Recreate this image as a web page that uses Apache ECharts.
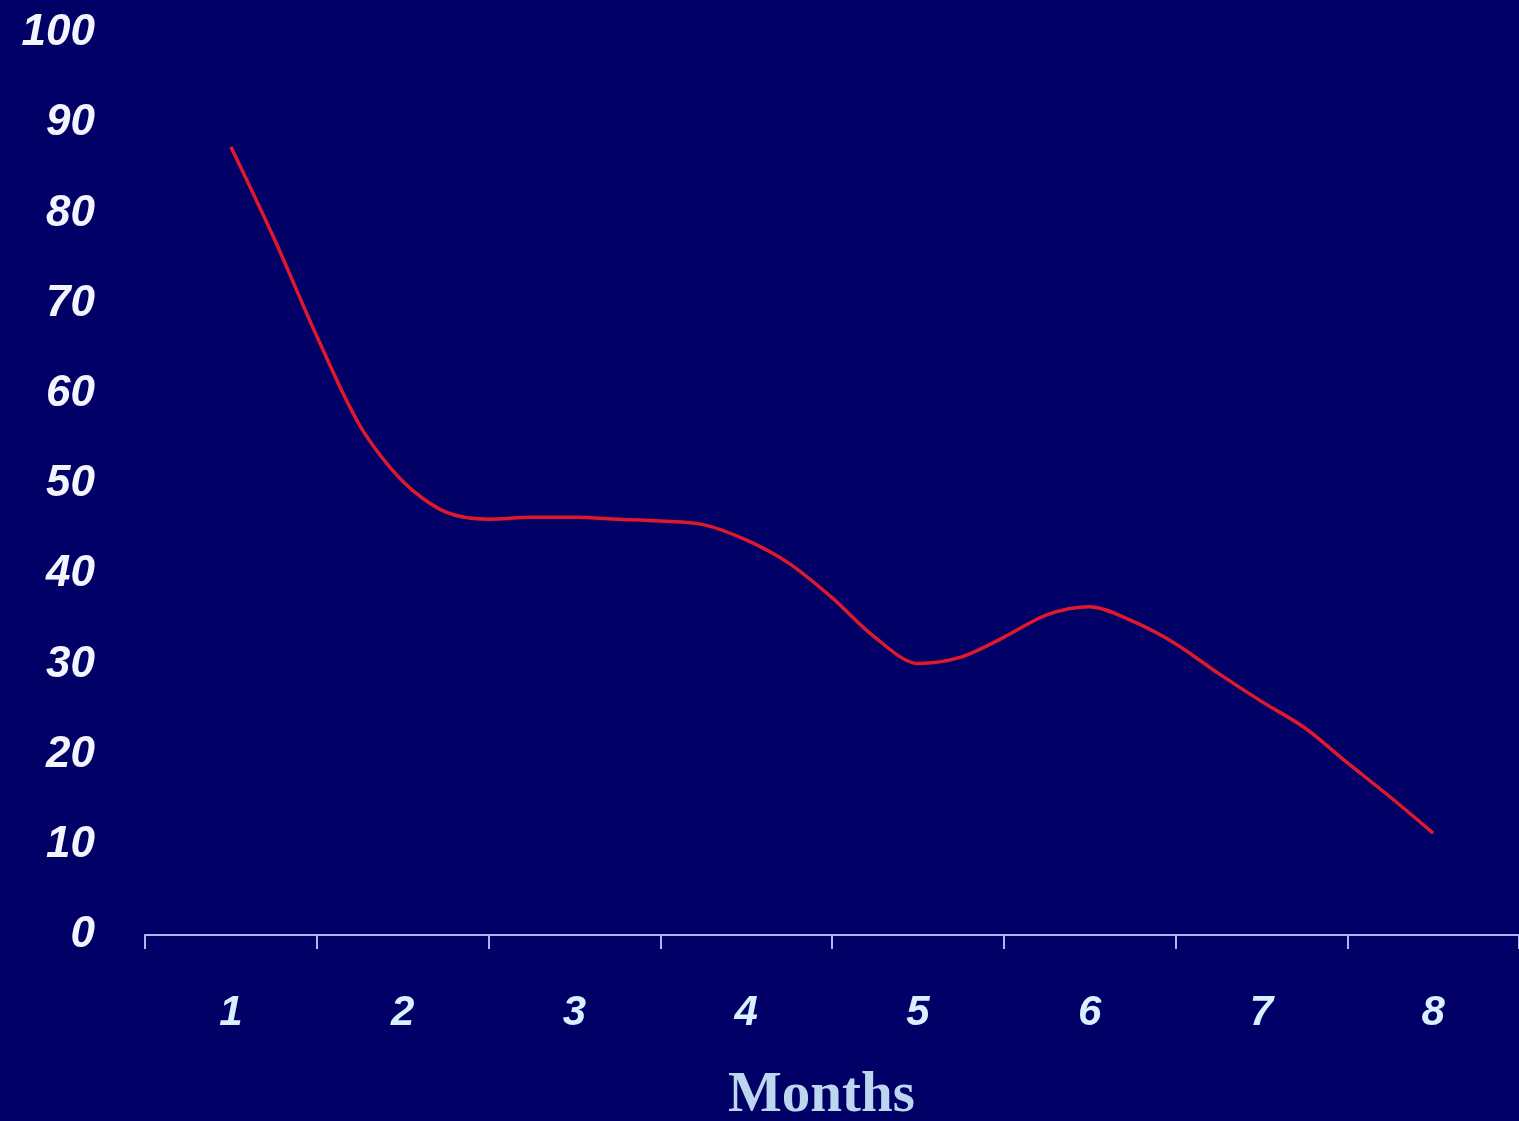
<!DOCTYPE html>
<html>
<head>
<meta charset="utf-8">
<script src="https://cdn.jsdelivr.net/npm/echarts@6/dist/echarts.min.js"></script>
<style>
html,body{margin:0;padding:0;background:#000066;}
#chart{width:1519px;height:1121px;}
</style>
</head>
<body>
<div id="chart"></div>
<script>
// Category labels (months)
const months = ['1','2','3','4','5','6','7','8'];
// Curve samples: position in months, value
const curveX = [1, 1.25, 1.5, 1.75, 2, 2.25, 2.5, 2.75, 3, 3.25, 3.5, 3.75, 4, 4.25, 4.5, 4.75, 5, 5.25, 5.5, 5.75, 6, 6.25, 6.5, 6.75, 7, 7.25, 7.5, 7.75, 8];
const curveY = [87.4, 77.3, 66.4, 56.5, 50.3, 46.9, 46.1, 46.3, 46.3, 46.1, 45.9, 45.5, 43.8, 41.2, 37.4, 33.0, 30.1, 30.8, 33.0, 35.5, 36.4, 34.8, 32.3, 29.0, 25.9, 23.0, 19.1, 15.3, 11.3];
const yTicks = [0, 10, 20, 30, 40, 50, 60, 70, 80, 90, 100];
const xTitle = 'Months';

const chart = echarts.init(document.getElementById('chart'));
chart.setOption({
  backgroundColor: '#000066',
  animation: false,
  grid: { left: 145, top: 33, width: 1376, height: 902 },
  xAxis: [
    {
      type: 'category',
      data: months,
      boundaryGap: true,
      axisLine: { show: true, lineStyle: { color: '#a8b8f0', width: 2 } },
      axisTick: { show: true, length: 14, lineStyle: { color: '#a8b8f0', width: 2 } },
      axisLabel: {
        color: '#d8f0ff', fontSize: 42, fontWeight: 'bold', fontStyle: 'italic',
        fontFamily: 'Liberation Sans, Arial, sans-serif', margin: 57
      },
      splitLine: { show: false }
    },
    {
      type: 'value', min: 0.5, max: 8.5, show: false
    }
  ],
  yAxis: {
    type: 'value', min: 0, max: 100, interval: 10,
    axisLine: { show: false }, axisTick: { show: false }, splitLine: { show: false },
    axisLabel: {
      color: '#f4f4ff', fontSize: 44, fontWeight: 'bold', fontStyle: 'italic',
      fontFamily: 'Liberation Sans, Arial, sans-serif', margin: 50,
      formatter: v => yTicks.includes(v) ? String(v) : ''
    }
  },
  graphic: [{
    type: 'text', left: 728, top: 1068,
    style: {
      text: xTitle, fill: '#bcd6f0', fontSize: 57, fontWeight: 'bold',
      fontFamily: 'Liberation Serif, Times New Roman, serif'
    }
  }],
  series: [{
    type: 'line',
    xAxisIndex: 1,
    smooth: 0.3,
    showSymbol: false,
    lineStyle: { color: '#e0182c', width: 3.5 },
    data: curveX.map((x, i) => [x, curveY[i]])
  }]
});
</script>
</body>
</html>
